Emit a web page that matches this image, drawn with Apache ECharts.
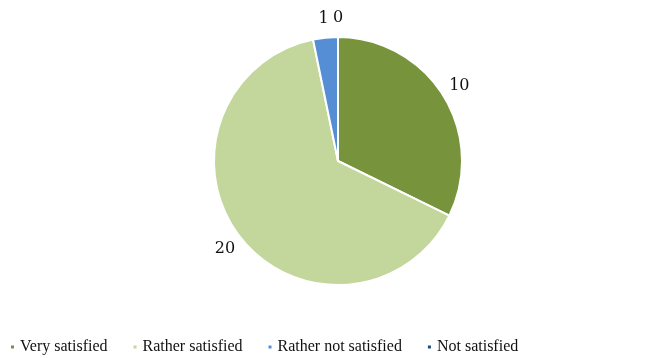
<!DOCTYPE html>
<html>
<head>
<meta charset="utf-8">
<script src="https://cdn.jsdelivr.net/npm/echarts@6/dist/echarts.min.js"></script>
<style>
  html, body { margin: 0; padding: 0; background: #fff; }
  #chart { width: 670px; height: 358px; }
</style>
</head>
<body>
<div id="chart"></div>
<script>
// Survey answers and their counts
const categories = ['Very satisfied', 'Rather satisfied', 'Rather not satisfied', 'Not satisfied'];
const counts = [10, 20, 1, 0];
const colors = ['#77933C', '#C3D69B', '#558ED5', '#1F497D'];

const legendFont = '"Liberation Serif", "DejaVu Serif", serif';
const labelFont = '"DejaVu Serif", "Liberation Serif", serif';

const pieData = categories.map((name, i) => ({ name: name, value: counts[i] }));

const chart = echarts.init(document.getElementById('chart'), null, { renderer: 'canvas' });

chart.setOption({
  animation: false,
  color: colors,
  legend: {
    data: categories,
    left: 4,
    bottom: -2,
    icon: 'rect',
    itemWidth: 5,
    itemHeight: 5,
    itemGap: 24,
    textStyle: { fontFamily: legendFont, fontSize: 16, color: '#111' }
  },
  series: [
    {
      // the pie itself
      type: 'pie',
      center: [338, 161],
      radius: 124,
      startAngle: 90,
      clockwise: true,
      stillShowZeroSum: true,
      itemStyle: { borderColor: '#ffffff', borderWidth: 2 },
      label: { show: false },
      labelLine: { show: false },
      emphasis: { disabled: true },
      data: pieData
    },
    {
      // value labels, centred on each slice's mid-angle just outside the rim
      type: 'pie',
      center: [338, 161],
      radius: [0, 280],
      startAngle: 90,
      clockwise: true,
      silent: true,
      stillShowZeroSum: true,
      minShowLabelAngle: 0,
      itemStyle: { color: 'rgba(0,0,0,0)', borderWidth: 0 },
      label: {
        show: true,
        position: 'inside',
        formatter: '{c}',
        fontFamily: labelFont,
        fontSize: 16,
        color: '#111'
      },
      labelLine: { show: false },
      emphasis: { disabled: true },
      data: pieData
    }
  ]
});
</script>
</body>
</html>
